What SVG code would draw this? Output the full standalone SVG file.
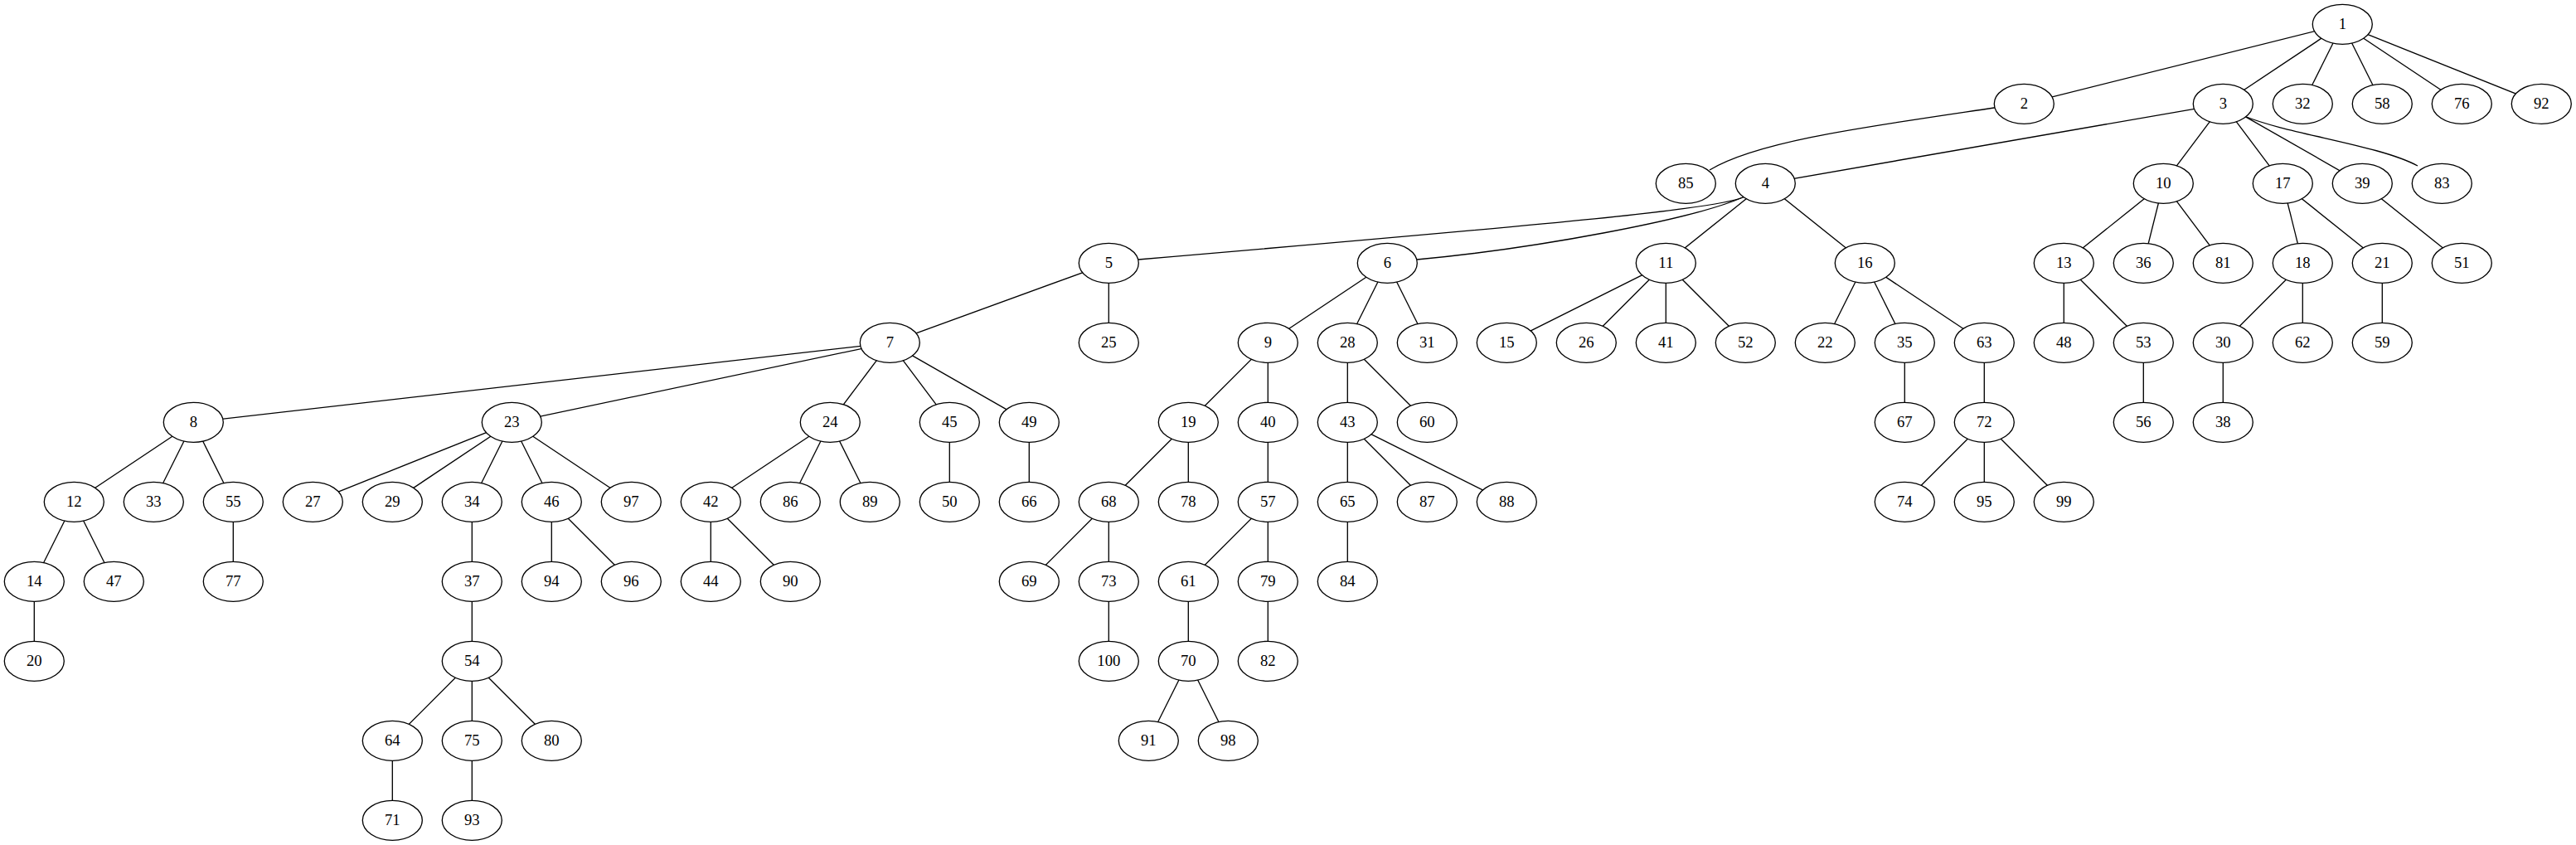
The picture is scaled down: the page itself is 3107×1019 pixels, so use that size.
<svg xmlns="http://www.w3.org/2000/svg" width="3107" height="1019" viewBox="0 0 3107 1019">
<style>
.e{stroke:#000;stroke-width:1.33;fill:none}
.n ellipse{fill:#fff;stroke:#000;stroke-width:1.33}
.n text{font-family:"Liberation Serif","Times New Roman",serif;font-size:18.67px;text-anchor:middle;fill:#000}
</style>
<rect width="3107" height="1019" fill="#fff"/>
<g id="edges" class="e">
<line x1="2825.3" y1="29.3" x2="2441.3" y2="125.3"/>
<line x1="2825.3" y1="29.3" x2="2681.3" y2="125.3"/>
<line x1="2825.3" y1="29.3" x2="2777.3" y2="125.3"/>
<line x1="2825.3" y1="29.3" x2="2873.3" y2="125.3"/>
<line x1="2825.3" y1="29.3" x2="2969.3" y2="125.3"/>
<line x1="2825.3" y1="29.3" x2="3065.3" y2="125.3"/>
<path d="M2441.3,125.3 L2405,130 C2250,153 2120,170 2062,205"/>
<line x1="2681.3" y1="125.3" x2="2129.3" y2="221.3"/>
<line x1="2681.3" y1="125.3" x2="2609.3" y2="221.3"/>
<line x1="2681.3" y1="125.3" x2="2753.3" y2="221.3"/>
<line x1="2681.3" y1="125.3" x2="2849.3" y2="221.3"/>
<path d="M2681.3,125.3 L2707,140 C2760,162 2870,175 2916,200"/>
<path d="M2129.3,221.3 L2102,238 C2070,252 1900,268 1373,313"/>
<path d="M2129.3,221.3 L2102,238 C2040,265 1850,300 1709,313"/>
<line x1="2129.3" y1="221.3" x2="2009.3" y2="317.3"/>
<line x1="2129.3" y1="221.3" x2="2249.3" y2="317.3"/>
<line x1="2609.3" y1="221.3" x2="2489.3" y2="317.3"/>
<line x1="2609.3" y1="221.3" x2="2585.3" y2="317.3"/>
<line x1="2609.3" y1="221.3" x2="2681.3" y2="317.3"/>
<line x1="2753.3" y1="221.3" x2="2777.3" y2="317.3"/>
<line x1="2753.3" y1="221.3" x2="2873.3" y2="317.3"/>
<line x1="2849.3" y1="221.3" x2="2969.3" y2="317.3"/>
<line x1="1337.3" y1="317.3" x2="1073.3" y2="413.3"/>
<line x1="1337.3" y1="317.3" x2="1337.3" y2="413.3"/>
<line x1="1673.3" y1="317.3" x2="1529.3" y2="413.3"/>
<line x1="1673.3" y1="317.3" x2="1625.3" y2="413.3"/>
<line x1="1673.3" y1="317.3" x2="1721.3" y2="413.3"/>
<line x1="2009.3" y1="317.3" x2="1817.3" y2="413.3"/>
<line x1="2009.3" y1="317.3" x2="1913.3" y2="413.3"/>
<line x1="2009.3" y1="317.3" x2="2009.3" y2="413.3"/>
<line x1="2009.3" y1="317.3" x2="2105.3" y2="413.3"/>
<line x1="2249.3" y1="317.3" x2="2201.3" y2="413.3"/>
<line x1="2249.3" y1="317.3" x2="2297.3" y2="413.3"/>
<line x1="2249.3" y1="317.3" x2="2393.3" y2="413.3"/>
<line x1="2489.3" y1="317.3" x2="2489.3" y2="413.3"/>
<line x1="2489.3" y1="317.3" x2="2585.3" y2="413.3"/>
<line x1="2777.3" y1="317.3" x2="2681.3" y2="413.3"/>
<line x1="2777.3" y1="317.3" x2="2777.3" y2="413.3"/>
<line x1="2873.3" y1="317.3" x2="2873.3" y2="413.3"/>
<line x1="1073.3" y1="413.3" x2="233.3" y2="509.3"/>
<line x1="1073.3" y1="413.3" x2="617.3" y2="509.3"/>
<line x1="1073.3" y1="413.3" x2="1001.3" y2="509.3"/>
<line x1="1073.3" y1="413.3" x2="1145.3" y2="509.3"/>
<line x1="1073.3" y1="413.3" x2="1241.3" y2="509.3"/>
<line x1="1529.3" y1="413.3" x2="1433.3" y2="509.3"/>
<line x1="1529.3" y1="413.3" x2="1529.3" y2="509.3"/>
<line x1="1625.3" y1="413.3" x2="1625.3" y2="509.3"/>
<line x1="1625.3" y1="413.3" x2="1721.3" y2="509.3"/>
<line x1="2297.3" y1="413.3" x2="2297.3" y2="509.3"/>
<line x1="2393.3" y1="413.3" x2="2393.3" y2="509.3"/>
<line x1="2585.3" y1="413.3" x2="2585.3" y2="509.3"/>
<line x1="2681.3" y1="413.3" x2="2681.3" y2="509.3"/>
<line x1="233.3" y1="509.3" x2="89.3" y2="605.3"/>
<line x1="233.3" y1="509.3" x2="185.3" y2="605.3"/>
<line x1="233.3" y1="509.3" x2="281.3" y2="605.3"/>
<line x1="617.3" y1="509.3" x2="377.3" y2="605.3"/>
<line x1="617.3" y1="509.3" x2="473.3" y2="605.3"/>
<line x1="617.3" y1="509.3" x2="569.3" y2="605.3"/>
<line x1="617.3" y1="509.3" x2="665.3" y2="605.3"/>
<line x1="617.3" y1="509.3" x2="761.3" y2="605.3"/>
<line x1="1001.3" y1="509.3" x2="857.3" y2="605.3"/>
<line x1="1001.3" y1="509.3" x2="953.3" y2="605.3"/>
<line x1="1001.3" y1="509.3" x2="1049.3" y2="605.3"/>
<line x1="1145.3" y1="509.3" x2="1145.3" y2="605.3"/>
<line x1="1241.3" y1="509.3" x2="1241.3" y2="605.3"/>
<line x1="1433.3" y1="509.3" x2="1337.3" y2="605.3"/>
<line x1="1433.3" y1="509.3" x2="1433.3" y2="605.3"/>
<line x1="1529.3" y1="509.3" x2="1529.3" y2="605.3"/>
<line x1="1625.3" y1="509.3" x2="1625.3" y2="605.3"/>
<line x1="1625.3" y1="509.3" x2="1721.3" y2="605.3"/>
<line x1="1625.3" y1="509.3" x2="1817.3" y2="605.3"/>
<line x1="2393.3" y1="509.3" x2="2297.3" y2="605.3"/>
<line x1="2393.3" y1="509.3" x2="2393.3" y2="605.3"/>
<line x1="2393.3" y1="509.3" x2="2489.3" y2="605.3"/>
<line x1="89.3" y1="605.3" x2="41.3" y2="701.3"/>
<line x1="89.3" y1="605.3" x2="137.3" y2="701.3"/>
<line x1="281.3" y1="605.3" x2="281.3" y2="701.3"/>
<line x1="569.3" y1="605.3" x2="569.3" y2="701.3"/>
<line x1="665.3" y1="605.3" x2="665.3" y2="701.3"/>
<line x1="665.3" y1="605.3" x2="761.3" y2="701.3"/>
<line x1="857.3" y1="605.3" x2="857.3" y2="701.3"/>
<line x1="857.3" y1="605.3" x2="953.3" y2="701.3"/>
<line x1="1337.3" y1="605.3" x2="1241.3" y2="701.3"/>
<line x1="1337.3" y1="605.3" x2="1337.3" y2="701.3"/>
<line x1="1529.3" y1="605.3" x2="1433.3" y2="701.3"/>
<line x1="1529.3" y1="605.3" x2="1529.3" y2="701.3"/>
<line x1="1625.3" y1="605.3" x2="1625.3" y2="701.3"/>
<line x1="41.3" y1="701.3" x2="41.3" y2="797.3"/>
<line x1="569.3" y1="701.3" x2="569.3" y2="797.3"/>
<line x1="1337.3" y1="701.3" x2="1337.3" y2="797.3"/>
<line x1="1433.3" y1="701.3" x2="1433.3" y2="797.3"/>
<line x1="1529.3" y1="701.3" x2="1529.3" y2="797.3"/>
<line x1="569.3" y1="797.3" x2="473.3" y2="893.3"/>
<line x1="569.3" y1="797.3" x2="569.3" y2="893.3"/>
<line x1="569.3" y1="797.3" x2="665.3" y2="893.3"/>
<line x1="1433.3" y1="797.3" x2="1385.3" y2="893.3"/>
<line x1="1433.3" y1="797.3" x2="1481.3" y2="893.3"/>
<line x1="473.3" y1="893.3" x2="473.3" y2="989.3"/>
<line x1="569.3" y1="893.3" x2="569.3" y2="989.3"/>
</g>
<g class="n">
<g id="node1"><ellipse cx="2825.3" cy="29.3" rx="36" ry="24"/><text x="2825.3" y="35.3">1</text></g>
<g id="node2"><ellipse cx="2441.3" cy="125.3" rx="36" ry="24"/><text x="2441.3" y="131.3">2</text></g>
<g id="node3"><ellipse cx="2681.3" cy="125.3" rx="36" ry="24"/><text x="2681.3" y="131.3">3</text></g>
<g id="node32"><ellipse cx="2777.3" cy="125.3" rx="36" ry="24"/><text x="2777.3" y="131.3">32</text></g>
<g id="node58"><ellipse cx="2873.3" cy="125.3" rx="36" ry="24"/><text x="2873.3" y="131.3">58</text></g>
<g id="node76"><ellipse cx="2969.3" cy="125.3" rx="36" ry="24"/><text x="2969.3" y="131.3">76</text></g>
<g id="node92"><ellipse cx="3065.3" cy="125.3" rx="36" ry="24"/><text x="3065.3" y="131.3">92</text></g>
<g id="node85"><ellipse cx="2033.3" cy="221.3" rx="36" ry="24"/><text x="2033.3" y="227.3">85</text></g>
<g id="node4"><ellipse cx="2129.3" cy="221.3" rx="36" ry="24"/><text x="2129.3" y="227.3">4</text></g>
<g id="node10"><ellipse cx="2609.3" cy="221.3" rx="36" ry="24"/><text x="2609.3" y="227.3">10</text></g>
<g id="node17"><ellipse cx="2753.3" cy="221.3" rx="36" ry="24"/><text x="2753.3" y="227.3">17</text></g>
<g id="node39"><ellipse cx="2849.3" cy="221.3" rx="36" ry="24"/><text x="2849.3" y="227.3">39</text></g>
<g id="node83"><ellipse cx="2945.3" cy="221.3" rx="36" ry="24"/><text x="2945.3" y="227.3">83</text></g>
<g id="node5"><ellipse cx="1337.3" cy="317.3" rx="36" ry="24"/><text x="1337.3" y="323.3">5</text></g>
<g id="node6"><ellipse cx="1673.3" cy="317.3" rx="36" ry="24"/><text x="1673.3" y="323.3">6</text></g>
<g id="node11"><ellipse cx="2009.3" cy="317.3" rx="36" ry="24"/><text x="2009.3" y="323.3">11</text></g>
<g id="node16"><ellipse cx="2249.3" cy="317.3" rx="36" ry="24"/><text x="2249.3" y="323.3">16</text></g>
<g id="node13"><ellipse cx="2489.3" cy="317.3" rx="36" ry="24"/><text x="2489.3" y="323.3">13</text></g>
<g id="node36"><ellipse cx="2585.3" cy="317.3" rx="36" ry="24"/><text x="2585.3" y="323.3">36</text></g>
<g id="node81"><ellipse cx="2681.3" cy="317.3" rx="36" ry="24"/><text x="2681.3" y="323.3">81</text></g>
<g id="node18"><ellipse cx="2777.3" cy="317.3" rx="36" ry="24"/><text x="2777.3" y="323.3">18</text></g>
<g id="node21"><ellipse cx="2873.3" cy="317.3" rx="36" ry="24"/><text x="2873.3" y="323.3">21</text></g>
<g id="node51"><ellipse cx="2969.3" cy="317.3" rx="36" ry="24"/><text x="2969.3" y="323.3">51</text></g>
<g id="node7"><ellipse cx="1073.3" cy="413.3" rx="36" ry="24"/><text x="1073.3" y="419.3">7</text></g>
<g id="node25"><ellipse cx="1337.3" cy="413.3" rx="36" ry="24"/><text x="1337.3" y="419.3">25</text></g>
<g id="node9"><ellipse cx="1529.3" cy="413.3" rx="36" ry="24"/><text x="1529.3" y="419.3">9</text></g>
<g id="node28"><ellipse cx="1625.3" cy="413.3" rx="36" ry="24"/><text x="1625.3" y="419.3">28</text></g>
<g id="node31"><ellipse cx="1721.3" cy="413.3" rx="36" ry="24"/><text x="1721.3" y="419.3">31</text></g>
<g id="node15"><ellipse cx="1817.3" cy="413.3" rx="36" ry="24"/><text x="1817.3" y="419.3">15</text></g>
<g id="node26"><ellipse cx="1913.3" cy="413.3" rx="36" ry="24"/><text x="1913.3" y="419.3">26</text></g>
<g id="node41"><ellipse cx="2009.3" cy="413.3" rx="36" ry="24"/><text x="2009.3" y="419.3">41</text></g>
<g id="node52"><ellipse cx="2105.3" cy="413.3" rx="36" ry="24"/><text x="2105.3" y="419.3">52</text></g>
<g id="node22"><ellipse cx="2201.3" cy="413.3" rx="36" ry="24"/><text x="2201.3" y="419.3">22</text></g>
<g id="node35"><ellipse cx="2297.3" cy="413.3" rx="36" ry="24"/><text x="2297.3" y="419.3">35</text></g>
<g id="node63"><ellipse cx="2393.3" cy="413.3" rx="36" ry="24"/><text x="2393.3" y="419.3">63</text></g>
<g id="node48"><ellipse cx="2489.3" cy="413.3" rx="36" ry="24"/><text x="2489.3" y="419.3">48</text></g>
<g id="node53"><ellipse cx="2585.3" cy="413.3" rx="36" ry="24"/><text x="2585.3" y="419.3">53</text></g>
<g id="node30"><ellipse cx="2681.3" cy="413.3" rx="36" ry="24"/><text x="2681.3" y="419.3">30</text></g>
<g id="node62"><ellipse cx="2777.3" cy="413.3" rx="36" ry="24"/><text x="2777.3" y="419.3">62</text></g>
<g id="node59"><ellipse cx="2873.3" cy="413.3" rx="36" ry="24"/><text x="2873.3" y="419.3">59</text></g>
<g id="node8"><ellipse cx="233.3" cy="509.3" rx="36" ry="24"/><text x="233.3" y="515.3">8</text></g>
<g id="node23"><ellipse cx="617.3" cy="509.3" rx="36" ry="24"/><text x="617.3" y="515.3">23</text></g>
<g id="node24"><ellipse cx="1001.3" cy="509.3" rx="36" ry="24"/><text x="1001.3" y="515.3">24</text></g>
<g id="node45"><ellipse cx="1145.3" cy="509.3" rx="36" ry="24"/><text x="1145.3" y="515.3">45</text></g>
<g id="node49"><ellipse cx="1241.3" cy="509.3" rx="36" ry="24"/><text x="1241.3" y="515.3">49</text></g>
<g id="node19"><ellipse cx="1433.3" cy="509.3" rx="36" ry="24"/><text x="1433.3" y="515.3">19</text></g>
<g id="node40"><ellipse cx="1529.3" cy="509.3" rx="36" ry="24"/><text x="1529.3" y="515.3">40</text></g>
<g id="node43"><ellipse cx="1625.3" cy="509.3" rx="36" ry="24"/><text x="1625.3" y="515.3">43</text></g>
<g id="node60"><ellipse cx="1721.3" cy="509.3" rx="36" ry="24"/><text x="1721.3" y="515.3">60</text></g>
<g id="node67"><ellipse cx="2297.3" cy="509.3" rx="36" ry="24"/><text x="2297.3" y="515.3">67</text></g>
<g id="node72"><ellipse cx="2393.3" cy="509.3" rx="36" ry="24"/><text x="2393.3" y="515.3">72</text></g>
<g id="node56"><ellipse cx="2585.3" cy="509.3" rx="36" ry="24"/><text x="2585.3" y="515.3">56</text></g>
<g id="node38"><ellipse cx="2681.3" cy="509.3" rx="36" ry="24"/><text x="2681.3" y="515.3">38</text></g>
<g id="node12"><ellipse cx="89.3" cy="605.3" rx="36" ry="24"/><text x="89.3" y="611.3">12</text></g>
<g id="node33"><ellipse cx="185.3" cy="605.3" rx="36" ry="24"/><text x="185.3" y="611.3">33</text></g>
<g id="node55"><ellipse cx="281.3" cy="605.3" rx="36" ry="24"/><text x="281.3" y="611.3">55</text></g>
<g id="node27"><ellipse cx="377.3" cy="605.3" rx="36" ry="24"/><text x="377.3" y="611.3">27</text></g>
<g id="node29"><ellipse cx="473.3" cy="605.3" rx="36" ry="24"/><text x="473.3" y="611.3">29</text></g>
<g id="node34"><ellipse cx="569.3" cy="605.3" rx="36" ry="24"/><text x="569.3" y="611.3">34</text></g>
<g id="node46"><ellipse cx="665.3" cy="605.3" rx="36" ry="24"/><text x="665.3" y="611.3">46</text></g>
<g id="node97"><ellipse cx="761.3" cy="605.3" rx="36" ry="24"/><text x="761.3" y="611.3">97</text></g>
<g id="node42"><ellipse cx="857.3" cy="605.3" rx="36" ry="24"/><text x="857.3" y="611.3">42</text></g>
<g id="node86"><ellipse cx="953.3" cy="605.3" rx="36" ry="24"/><text x="953.3" y="611.3">86</text></g>
<g id="node89"><ellipse cx="1049.3" cy="605.3" rx="36" ry="24"/><text x="1049.3" y="611.3">89</text></g>
<g id="node50"><ellipse cx="1145.3" cy="605.3" rx="36" ry="24"/><text x="1145.3" y="611.3">50</text></g>
<g id="node66"><ellipse cx="1241.3" cy="605.3" rx="36" ry="24"/><text x="1241.3" y="611.3">66</text></g>
<g id="node68"><ellipse cx="1337.3" cy="605.3" rx="36" ry="24"/><text x="1337.3" y="611.3">68</text></g>
<g id="node78"><ellipse cx="1433.3" cy="605.3" rx="36" ry="24"/><text x="1433.3" y="611.3">78</text></g>
<g id="node57"><ellipse cx="1529.3" cy="605.3" rx="36" ry="24"/><text x="1529.3" y="611.3">57</text></g>
<g id="node65"><ellipse cx="1625.3" cy="605.3" rx="36" ry="24"/><text x="1625.3" y="611.3">65</text></g>
<g id="node87"><ellipse cx="1721.3" cy="605.3" rx="36" ry="24"/><text x="1721.3" y="611.3">87</text></g>
<g id="node88"><ellipse cx="1817.3" cy="605.3" rx="36" ry="24"/><text x="1817.3" y="611.3">88</text></g>
<g id="node74"><ellipse cx="2297.3" cy="605.3" rx="36" ry="24"/><text x="2297.3" y="611.3">74</text></g>
<g id="node95"><ellipse cx="2393.3" cy="605.3" rx="36" ry="24"/><text x="2393.3" y="611.3">95</text></g>
<g id="node99"><ellipse cx="2489.3" cy="605.3" rx="36" ry="24"/><text x="2489.3" y="611.3">99</text></g>
<g id="node14"><ellipse cx="41.3" cy="701.3" rx="36" ry="24"/><text x="41.3" y="707.3">14</text></g>
<g id="node47"><ellipse cx="137.3" cy="701.3" rx="36" ry="24"/><text x="137.3" y="707.3">47</text></g>
<g id="node77"><ellipse cx="281.3" cy="701.3" rx="36" ry="24"/><text x="281.3" y="707.3">77</text></g>
<g id="node37"><ellipse cx="569.3" cy="701.3" rx="36" ry="24"/><text x="569.3" y="707.3">37</text></g>
<g id="node94"><ellipse cx="665.3" cy="701.3" rx="36" ry="24"/><text x="665.3" y="707.3">94</text></g>
<g id="node96"><ellipse cx="761.3" cy="701.3" rx="36" ry="24"/><text x="761.3" y="707.3">96</text></g>
<g id="node44"><ellipse cx="857.3" cy="701.3" rx="36" ry="24"/><text x="857.3" y="707.3">44</text></g>
<g id="node90"><ellipse cx="953.3" cy="701.3" rx="36" ry="24"/><text x="953.3" y="707.3">90</text></g>
<g id="node69"><ellipse cx="1241.3" cy="701.3" rx="36" ry="24"/><text x="1241.3" y="707.3">69</text></g>
<g id="node73"><ellipse cx="1337.3" cy="701.3" rx="36" ry="24"/><text x="1337.3" y="707.3">73</text></g>
<g id="node61"><ellipse cx="1433.3" cy="701.3" rx="36" ry="24"/><text x="1433.3" y="707.3">61</text></g>
<g id="node79"><ellipse cx="1529.3" cy="701.3" rx="36" ry="24"/><text x="1529.3" y="707.3">79</text></g>
<g id="node84"><ellipse cx="1625.3" cy="701.3" rx="36" ry="24"/><text x="1625.3" y="707.3">84</text></g>
<g id="node20"><ellipse cx="41.3" cy="797.3" rx="36" ry="24"/><text x="41.3" y="803.3">20</text></g>
<g id="node54"><ellipse cx="569.3" cy="797.3" rx="36" ry="24"/><text x="569.3" y="803.3">54</text></g>
<g id="node100"><ellipse cx="1337.3" cy="797.3" rx="36" ry="24"/><text x="1337.3" y="803.3">100</text></g>
<g id="node70"><ellipse cx="1433.3" cy="797.3" rx="36" ry="24"/><text x="1433.3" y="803.3">70</text></g>
<g id="node82"><ellipse cx="1529.3" cy="797.3" rx="36" ry="24"/><text x="1529.3" y="803.3">82</text></g>
<g id="node64"><ellipse cx="473.3" cy="893.3" rx="36" ry="24"/><text x="473.3" y="899.3">64</text></g>
<g id="node75"><ellipse cx="569.3" cy="893.3" rx="36" ry="24"/><text x="569.3" y="899.3">75</text></g>
<g id="node80"><ellipse cx="665.3" cy="893.3" rx="36" ry="24"/><text x="665.3" y="899.3">80</text></g>
<g id="node91"><ellipse cx="1385.3" cy="893.3" rx="36" ry="24"/><text x="1385.3" y="899.3">91</text></g>
<g id="node98"><ellipse cx="1481.3" cy="893.3" rx="36" ry="24"/><text x="1481.3" y="899.3">98</text></g>
<g id="node71"><ellipse cx="473.3" cy="989.3" rx="36" ry="24"/><text x="473.3" y="995.3">71</text></g>
<g id="node93"><ellipse cx="569.3" cy="989.3" rx="36" ry="24"/><text x="569.3" y="995.3">93</text></g>
</g>
</svg>
